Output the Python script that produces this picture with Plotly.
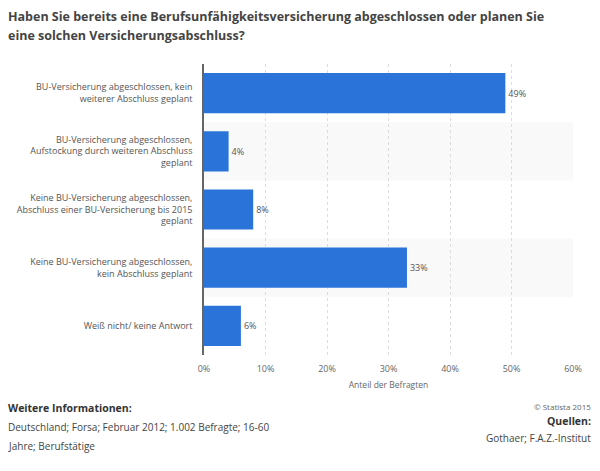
import plotly.graph_objects as go

categories = [
    "BU-Versicherung abgeschlossen, kein<br>weiterer Abschluss geplant",
    "BU-Versicherung abgeschlossen,<br>Aufstockung durch weiteren Abschluss<br>geplant",
    "Keine BU-Versicherung abgeschlossen,<br>Abschluss einer BU-Versicherung bis 2015<br>geplant",
    "Keine BU-Versicherung abgeschlossen,<br>kein Abschluss geplant",
    "Weiß nicht/ keine Antwort",
]
values = [49, 4, 8, 33, 6]
tick_vals = [0, 10, 20, 30, 40, 50, 60]
tick_text = ["0%", "10%", "20%", "30%", "40%", "50%", "60%"]

title_lines = [
    "Haben Sie bereits eine Berufsunfähigkeitsversicherung abgeschlossen oder planen Sie",
    "eine solchen Versicherungsabschluss?",
]
axis_title = "Anteil der Befragten"

FONT = "Open Sans"
L, R, T, B = 204, 27, 64, 116
W, H = 600, 471

fig = go.Figure()
fig.add_trace(go.Bar(
    x=values, y=categories, orientation="h",
    marker=dict(color="#2a74d9", line=dict(width=0)),
    width=0.69,
    text=[f"{v}%" for v in values], textposition="outside",
    textfont=dict(family=FONT, size=9, color="#555555"),
    cliponaxis=False,
))

shapes = []
for i in range(len(categories)):
    if i % 2 == 1:
        shapes.append(dict(type="rect", xref="paper", yref="y", x0=0, x1=1,
                           y0=i - 0.5, y1=i + 0.5, fillcolor="#f9f9f9",
                           line=dict(width=0), layer="below"))

fig.update_layout(
    width=W, height=H,
    margin=dict(l=L, r=R, t=T, b=B, autoexpand=False),
    paper_bgcolor="white", plot_bgcolor="white",
    showlegend=False,
    shapes=shapes,
    xaxis=dict(range=[0, 60], tickvals=tick_vals, ticktext=tick_text,
               showgrid=True, gridcolor="#dddddd", griddash="dot", gridwidth=1,
               zeroline=False, showline=False, automargin=False,
               tickfont=dict(family=FONT, size=9, color="#666666"),
               ticks="outside", ticklen=5, tickcolor="rgba(0,0,0,0)",
               title=dict(text=axis_title, font=dict(family=FONT, size=8.5, color="#666666"), standoff=8)),
    yaxis=dict(autorange="reversed", showgrid=False, zeroline=False, automargin=False,
               showline=True, linecolor="#666666", linewidth=1.5,
               tickfont=dict(family=FONT, size=9, color="#555555"),
               ticks="", ticklabelstandoff=8),
)

annotations = [
    dict(text=f"<b>{title_lines[0]}</b>", x=7, y=17, size=12.5, color="#444444", xanchor="left"),
    dict(text=f"<b>{title_lines[1]}</b>", x=7, y=36, size=12.5, color="#444444", xanchor="left"),
    dict(text="<b>Weitere Informationen:</b>", x=7, y=408, size=10.5, color="#333333", xanchor="left"),
    dict(text="Deutschland; Forsa; Februar 2012; 1.002 Befragte; 16-60", x=7, y=427,
         size=10, color="#444444", xanchor="left"),
    dict(text="Jahre; Berufstätige", x=7, y=446, size=10, color="#444444", xanchor="left"),
    dict(text="© Statista 2015", x=592, y=406, size=8, color="#666666", xanchor="right"),
    dict(text="<b>Quellen:</b>", x=592, y=421, size=10.5, color="#333333", xanchor="right"),
    dict(text="Gothaer; F.A.Z.-Institut", x=592, y=438, size=10, color="#444444", xanchor="right"),
]
pw = W - L - R
ph = H - T - B
for a in annotations:
    fig.add_annotation(text=a["text"], xref="paper", yref="paper",
                       x=(a["x"] - L) / pw, y=1 - (a["y"] - T) / ph,
                       xanchor=a["xanchor"], yanchor="middle", showarrow=False,
                       align="left" if a["xanchor"] == "left" else "right",
                       borderpad=0,
                       font=dict(family=FONT, size=a["size"], color=a["color"]))

fig.write_html("out.html")
